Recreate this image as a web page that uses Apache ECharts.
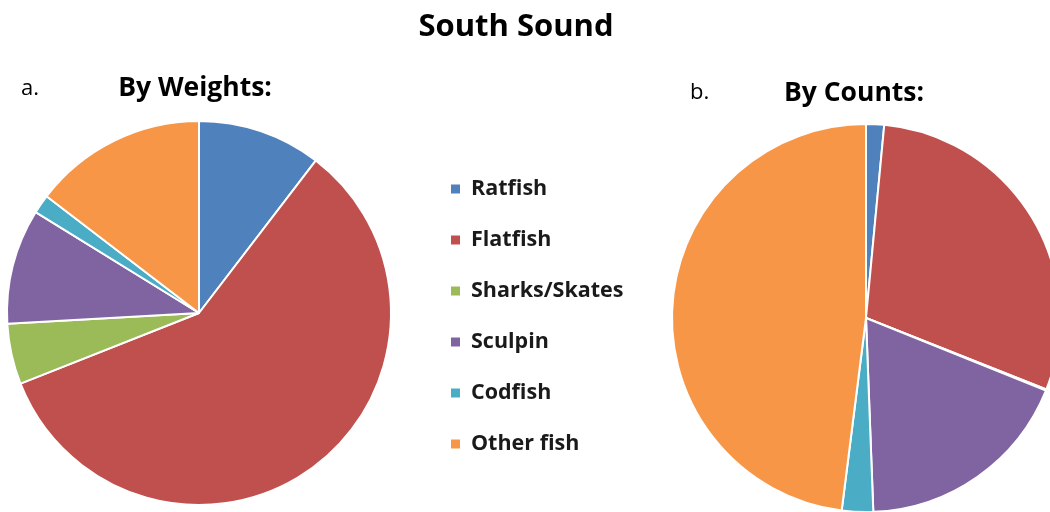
<!DOCTYPE html>
<html>
<head>
<meta charset="utf-8">
<script src="https://cdn.jsdelivr.net/npm/echarts@6/dist/echarts.min.js"></script>
<style>
  html, body { margin: 0; padding: 0; background: #fff; }
  #chart { width: 1050px; height: 512px; }
</style>
</head>
<body>
<div id="chart"></div>
<script>
const categories = ['Ratfish', 'Flatfish', 'Sharks/Skates', 'Sculpin', 'Codfish', 'Other fish'];
const weightValues = [10.4, 58.6, 5.1, 9.7, 1.6, 14.6];
const countValues = [1.5, 29.5, 0.1, 18.3, 2.6, 48.0];
const colors = ['#4F81BD', '#C0504D', '#9BBB59', '#8064A2', '#4BACC6', '#F79646'];

const FONT = '"Open Sans", Lato, sans-serif';

function toData(values) {
  return categories.map((name, i) => ({ name: name, value: values[i] }));
}

const chart = echarts.init(document.getElementById('chart'), null, { renderer: 'canvas' });

chart.setOption({
  animation: false,
  color: colors,
  title: [
    { text: 'South Sound', left: 516, top: 12, textAlign: 'center', padding: 0,
      textStyle: { fontFamily: FONT, fontSize: 31, fontWeight: 'bold', color: '#000' } },
    { text: 'By Weights:', left: 195, top: 75, textAlign: 'center', padding: 0,
      textStyle: { fontFamily: FONT, fontSize: 26.5, fontWeight: 'bold', color: '#000' } },
    { text: 'a.', left: 21, top: 78, padding: 0,
      textStyle: { fontFamily: FONT, fontSize: 22, fontWeight: 'normal', color: '#000' } },
    { text: 'By Counts:', left: 854, top: 80, textAlign: 'center', padding: 0,
      textStyle: { fontFamily: FONT, fontSize: 26.5, fontWeight: 'bold', color: '#000' } },
    { text: 'b.', left: 690, top: 82, padding: 0,
      textStyle: { fontFamily: FONT, fontSize: 22, fontWeight: 'normal', color: '#000' } }
  ],
  legend: {
    orient: 'vertical',
    left: 449,
    top: 178,
    padding: 0,
    icon: 'rect',
    itemWidth: 11,
    itemHeight: 11,
    itemGap: 29,
    selectedMode: false,
    data: categories,
    textStyle: { fontFamily: FONT, fontSize: 21.5, fontWeight: 'bold', color: '#1a1a1a',
      lineHeight: 22, padding: [0, 0, 0, 5] }
  },
  series: [
    {
      name: 'By Weights',
      type: 'pie',
      center: [199, 313],
      radius: 192,
      startAngle: 90,
      clockwise: true,
      label: { show: false },
      labelLine: { show: false },
      emphasis: { disabled: true },
      itemStyle: { borderColor: '#fff', borderWidth: 2 },
      data: toData(weightValues)
    },
    {
      name: 'By Counts',
      type: 'pie',
      center: [866, 318],
      radius: 194,
      startAngle: 90,
      clockwise: true,
      label: { show: false },
      labelLine: { show: false },
      emphasis: { disabled: true },
      itemStyle: { borderColor: '#fff', borderWidth: 2 },
      data: toData(countValues)
    }
  ]
});
</script>
</body>
</html>
